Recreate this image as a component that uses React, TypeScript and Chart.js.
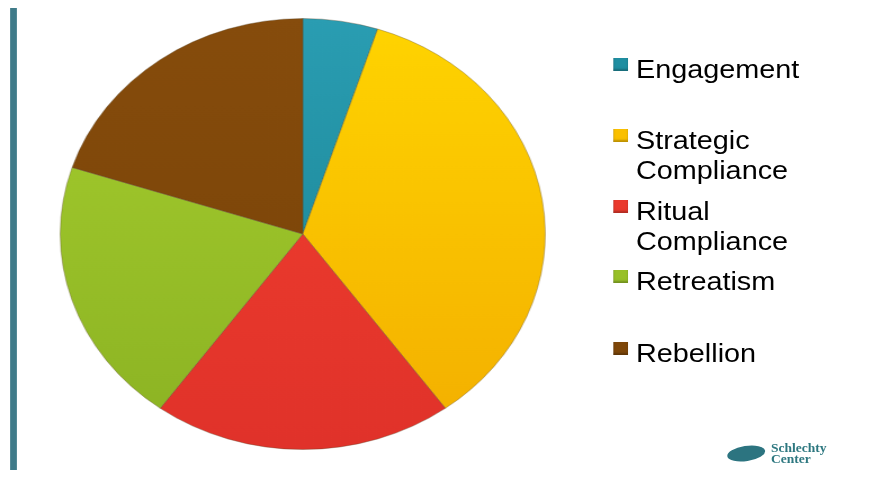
import React, { useEffect, useRef } from "react";
import { Chart, registerables } from "chart.js";

Chart.register(...registerables);

const categories: string[][] = [
  ["Engagement"],
  ["Strategic", "Compliance"],
  ["Ritual", "Compliance"],
  ["Retreatism"],
  ["Rebellion"],
];
const shares: number[] = [5, 35, 20, 20, 20];
const topColors: string[] = ["#2A9DB2", "#FFD400", "#F2402F", "#A6CE2E", "#864C0C"];
const bottomColors: string[] = ["#17808F", "#F3AE00", "#E0322A", "#8BB223", "#774207"];
const legendColors: string[] = ["#1F8EA1", "#FAC000", "#EA3A2D", "#98C028", "#7E4709"];

const STRETCH = 1.1255;

export default function App() {
  const canvasRef = useRef<HTMLCanvasElement | null>(null);

  useEffect(() => {
    if (!canvasRef.current) return;
    const chart = new Chart(canvasRef.current, {
      type: "pie",
      data: {
        labels: categories.map((c) => c.join(" ")),
        datasets: [
          {
            data: shares,
            backgroundColor: (ctx: any) => {
              const i = ctx.dataIndex;
              const area = ctx.chart.chartArea;
              if (!area) return legendColors[i];
              const g = ctx.chart.ctx.createLinearGradient(0, area.top, 0, area.bottom);
              g.addColorStop(0, topColors[i]);
              g.addColorStop(1, bottomColors[i]);
              return g;
            },
            borderColor: "rgba(90,70,40,0.35)",
            borderWidth: 1,
          },
        ],
      },
      options: {
        animation: false,
        responsive: true,
        maintainAspectRatio: false,
        layout: { padding: 0 },
        plugins: {
          legend: { display: false },
          tooltip: { enabled: false },
        },
      },
    });
    return () => chart.destroy();
  }, []);

  const capTops = [60, 131, 202, 272, 344];
  const font = '"Liberation Sans", Arial, sans-serif';

  return (
    <div
      style={{
        position: "fixed",
        left: 0,
        top: 0,
        width: 870,
        height: 481,
        background: "#ffffff",
        overflow: "hidden",
      }}
    >
      <div
        style={{
          position: "absolute",
          left: 0,
          top: 0,
          width: 870 / STRETCH,
          height: 481,
          transform: `scaleX(${STRETCH})`,
          transformOrigin: "0 0",
        }}
      >
        <div
          style={{
            position: "absolute",
            left: 10 / STRETCH,
            top: 8,
            width: 7 / STRETCH,
            height: 462,
            background: "#3F7B89",
          }}
        />
        <div
          style={{
            position: "absolute",
            left: 303 / STRETCH - 216,
            top: 18,
            width: 432,
            height: 432,
          }}
        >
          <canvas ref={canvasRef} />
        </div>
        {categories.map((lines, i) => (
          <div
            key={i}
            style={{
              position: "absolute",
              left: 613 / STRETCH,
              top: capTops[i] - 6,
            }}
          >
            <div
              style={{
                position: "absolute",
                left: 0,
                top: 4,
                width: 13,
                height: 13,
                background: legendColors[i],
                boxShadow: "inset 0 -2px 2px rgba(0,0,0,0.25)",
              }}
            />
            <div
              style={{
                position: "absolute",
                left: 636 / STRETCH - 613 / STRETCH,
                top: 0,
                fontFamily: font,
                fontSize: 25.6,
                lineHeight: "30px",
                color: "#000000",
                whiteSpace: "nowrap",
              }}
            >
              {lines.map((l, j) => (
                <div key={j}>{l}</div>
              ))}
            </div>
          </div>
        ))}
        <div
          style={{
            position: "absolute",
            left: 727 / STRETCH,
            top: 446,
            width: 34,
            height: 15,
            borderRadius: "50%",
            background: "#2C7480",
            transform: "rotate(-10deg)",
          }}
        />
        <div
          style={{
            position: "absolute",
            left: 771 / STRETCH,
            top: 443,
            fontFamily: '"Liberation Serif", serif',
            fontSize: 12,
            lineHeight: "11px",
            color: "#2E7880",
            fontWeight: "bold",
          }}
        >
          <div>Schlechty</div>
          <div>Center</div>
        </div>
      </div>
    </div>
  );
}
